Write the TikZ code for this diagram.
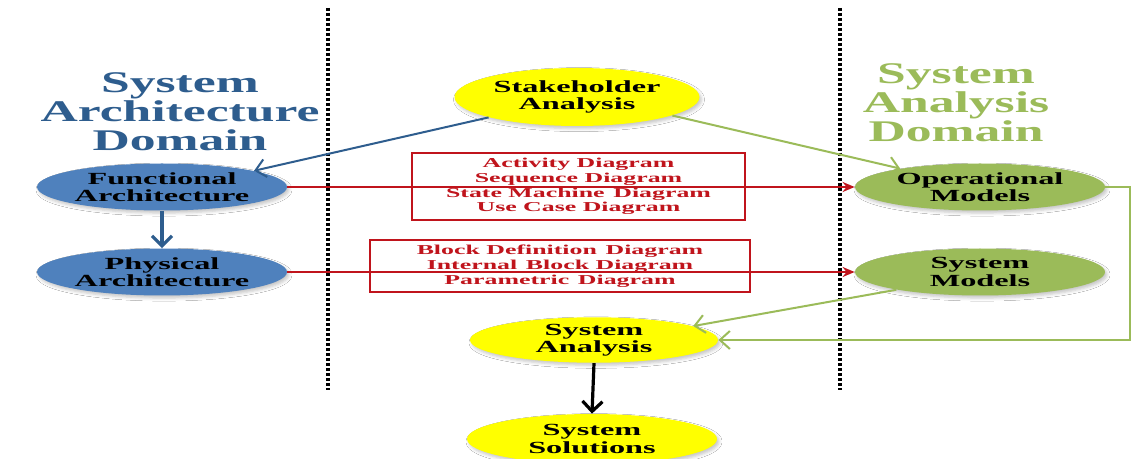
\documentclass[tikz,border=0pt]{standalone}
\usepackage{fontspec}
\newfontfamily\titlefont[FakeStretch=1.72]{Liberation Serif}
\newfontfamily\widefont[FakeStretch=1.9]{Liberation Serif}
\usetikzlibrary{shapes.geometric,arrows.meta,shadows.blur}
\definecolor{archblue}{HTML}{2E5D8E}
\definecolor{ellblue}{HTML}{4F81BD}
\definecolor{anagreen}{HTML}{9BBB59}
\definecolor{diagred}{HTML}{C0141C}
\definecolor{sunyellow}{HTML}{FFFF00}
\tikzset{
  oval/.style={ellipse, inner sep=0pt, minimum width=125pt, minimum height=23.5pt,
    align=center, text=black, font=\widefont\bfseries\fontsize{8.5}{8.6}\selectfont,
    blur shadow={shadow xshift=1pt, shadow yshift=-1.3pt, shadow blur radius=1.5pt, shadow opacity=22}},
  domaintitle/.style={align=center, font=\titlefont\bfseries\fontsize{15}{14.6}\selectfont},
  diagbox/.style={draw=diagred, line width=1.1pt, inner sep=0pt, align=center, text=diagred,
    font=\widefont\bfseries\fontsize{6.8}{7.4}\selectfont},
  divider/.style={line width=1.7pt, dash pattern=on 1.5pt off 1pt},
  bluelink/.style={draw=archblue, line width=1pt, -{Straight Barb[length=5pt,width=9pt]}},
  greenlink/.style={draw=anagreen, line width=1pt, -{Straight Barb[length=5pt,width=9pt]}},
  redlink/.style={draw=diagred, line width=1pt, -{Stealth[length=6pt,width=5pt]}},
}
\begin{document}
\begin{tikzpicture}[x=0.5pt,y=-0.5pt]
\clip (0,0) rectangle (1138,459);
\fill[white] (0,0) rectangle (1138,459);

% domain dividers
\coordinate (d1t) at (328,8);  \coordinate (d1b) at (328,390);
\coordinate (d2t) at (840,8);  \coordinate (d2b) at (840,390);
\draw[divider] (d1t) -- (d1b);
\draw[divider] (d2t) -- (d2b);

% domain titles
\node[domaintitle, text=archblue] (archtitle) at (180,112) {System\\Architecture\\Domain};
\node[domaintitle, text=anagreen] (anatitle) at (956,103) {System\\Analysis\\Domain};

% ovals
\node[oval, fill=sunyellow, minimum width=122.5pt, minimum height=29pt] (stake) at (577,97) {Stakeholder\\Analysis};
\node[oval, fill=ellblue] (func) at (162,187) {Functional\\Architecture};
\node[oval, fill=ellblue] (phys) at (162,272) {Physical\\Architecture};
\node[oval, fill=anagreen] (oper) at (980,187) {Operational\\Models};
\node[oval, fill=anagreen] (sysm) at (980,272) {System\\Models};
\node[oval, fill=sunyellow, minimum width=124pt, minimum height=22pt] (sana) at (594,340) {System\\Analysis};
\node[oval, fill=sunyellow, minimum width=125pt, minimum height=25pt] (ssol) at (592,439) {System\\Solutions};

% diagram connectors
\draw[redlink] (func.east) -- (oper.west);
\draw[redlink] (phys.east) -- (sysm.west);

% diagram lists
\node[diagbox, minimum width=166.5pt, minimum height=33.5pt] (behav) at (578.5,186.5)
  {Activity Diagram\\Sequence Diagram\\State Machine\, Diagram\\Use Case Diagram};
\node[diagbox, minimum width=190pt, minimum height=26pt] (struct) at (560,266)
  {Block Definition\, Diagram\\Internal\, Block Diagram\\Parametric\, Diagram};

% other connectors
\draw[bluelink] (stake.193) -- (func.10);
\draw[greenlink] (stake.349) -- (oper.167);
\draw[archblue, line width=1.6pt, -{Straight Barb[length=5pt,width=10pt]}] (func.south) -- (phys.north);
\coordinate (loopc) at (1130,187);
\draw[greenlink] (oper.east) -- (loopc) |- (sana.east);
\draw[greenlink] (sysm.192) -- (sana.8);
\draw[black, line width=1.6pt, -{Straight Barb[length=5pt,width=10pt]}] (sana.south) -- (ssol.north);
\end{tikzpicture}
\end{document}
